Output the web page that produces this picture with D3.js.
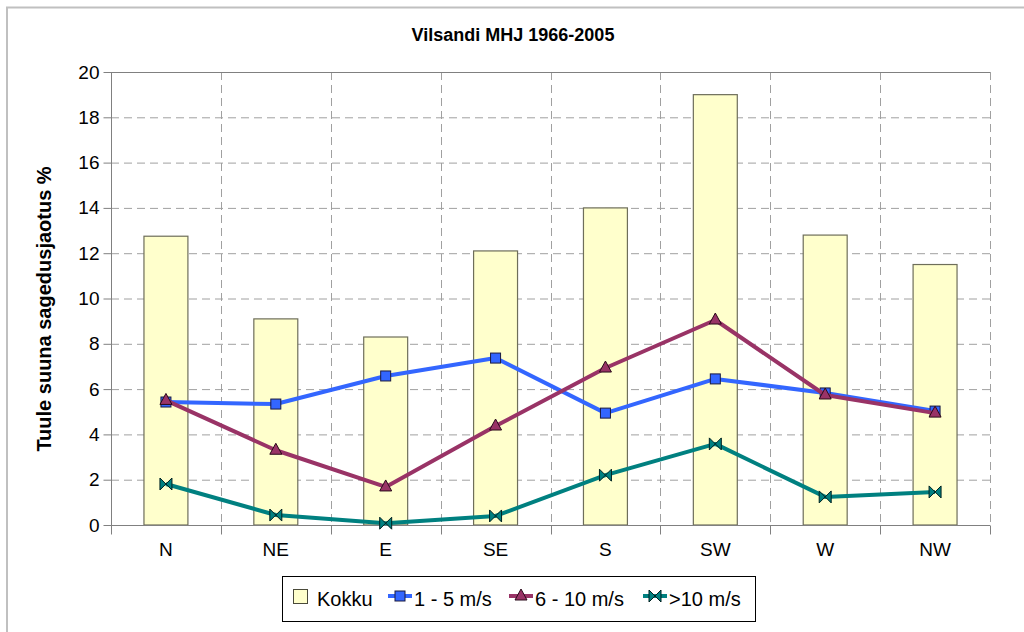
<!DOCTYPE html>
<html>
<head>
<meta charset="utf-8">
<script src="https://cdn.jsdelivr.net/npm/d3@7"></script>
<style>
  body { margin: 0; background: #fff; }
  svg { font-family: Arial, "Liberation Sans", sans-serif; }
</style>
</head>
<body>
<script>
const width = 1024,
  height = 632;

const directions = ['N', 'NE', 'E', 'SE', 'S', 'SW', 'W', 'NW'];
const kokku = [12.75, 9.1, 8.3, 12.1, 14.0, 19.0, 12.8, 11.5];
const speed1to5 = [5.43, 5.34, 6.58, 7.37, 4.94, 6.45, 5.83, 5.03];
const speed6to10 = [5.5, 3.3, 1.68, 4.37, 6.93, 9.05, 5.74, 4.94];
const speedOver10 = [1.81, 0.44, 0.08, 0.4, 2.2, 3.58, 1.24, 1.46];
const yTicks = [0, 2, 4, 6, 8, 10, 12, 14, 16, 18, 20];

const series = [
  { name: '1 - 5 m/s', values: speed1to5, color: '#3366ff', marker: 'square' },
  { name: '6 - 10 m/s', values: speed6to10, color: '#993366', marker: 'triangle' },
  { name: '>10 m/s', values: speedOver10, color: '#008080', marker: 'bowtie' }
];

const margin = { top: 72, right: 34, bottom: 107, left: 111 };

const svg = d3
  .select('body')
  .append('svg')
  .attr('width', width)
  .attr('height', height);

// välimine raam
svg
  .append('rect')
  .attr('x', 7)
  .attr('y', 7.5)
  .attr('width', width)
  .attr('height', height)
  .attr('fill', 'none')
  .attr('stroke', '#c0c0c0')
  .attr('stroke-width', 2);

const x = d3
  .scaleBand()
  .domain(directions)
  .range([margin.left, width - margin.right]);

const y = d3
  .scaleLinear()
  .domain([0, 20])
  .range([height - margin.bottom, margin.top]);

const x0 = margin.left,
  x1 = width - margin.right,
  yBottom = y(0),
  yTop = y(20);

// ruudustik
const grid = svg.append('g');
grid
  .selectAll('.hgrid')
  .data(yTicks.filter(d => d > 0 && d < 20))
  .join('line')
  .attr('x1', x0)
  .attr('x2', x1)
  .attr('y1', d => y(d) + 0.5)
  .attr('y2', d => y(d) + 0.5)
  .attr('stroke', '#a0a0a0')
  .attr('stroke-dasharray', '8,5');

const boundaries = directions.slice(1).map(d => x(d)).concat([x1]);
grid
  .selectAll('.vgrid')
  .data(boundaries)
  .join('line')
  .attr('x1', d => Math.round(d) + 0.5)
  .attr('x2', d => Math.round(d) + 0.5)
  .attr('y1', yTop)
  .attr('y2', yBottom)
  .attr('stroke', '#a0a0a0')
  .attr('stroke-dasharray', '8,5');

// ülemine joon
grid
  .append('line')
  .attr('x1', x0)
  .attr('x2', x1)
  .attr('y1', yTop + 0.5)
  .attr('y2', yTop + 0.5)
  .attr('stroke', '#808080');

// tulbad
const barW = x.bandwidth() / 2.5;
svg
  .append('g')
  .selectAll('rect')
  .data(kokku)
  .join('rect')
  .attr('x', (d, i) => x(directions[i]) + (x.bandwidth() - barW) / 2)
  .attr('y', d => y(d))
  .attr('width', barW)
  .attr('height', d => yBottom - y(d))
  .attr('fill', '#ffffcc')
  .attr('stroke', '#6e6e5a')
  .attr('stroke-width', 1.2);

// teljed
const yAxis = d3.axisLeft(y).tickValues(yTicks).tickSize(8).tickPadding(4);
const gy = svg
  .append('g')
  .attr('transform', `translate(${x0 + 0.5},0)`)
  .call(yAxis);
gy.select('.domain').attr('stroke', '#808080').attr('d', `M0,${yTop}V${yBottom}`);
gy.selectAll('.tick line').attr('stroke', '#808080');
gy.selectAll('.tick text').attr('font-size', 19).attr('fill', '#000');

const xAxis = d3.axisBottom(x).tickSize(0).tickPadding(17);
const gx = svg
  .append('g')
  .attr('transform', `translate(0,${yBottom + 0.5})`)
  .call(xAxis);
gx.select('.domain').attr('stroke', '#808080').attr('d', `M${x0},0H${x1}`);
gx.selectAll('.tick text').attr('font-size', 19).attr('fill', '#000');
gx
  .selectAll('.xt')
  .data([x0].concat(boundaries))
  .join('line')
  .attr('x1', d => Math.round(d) + 0.5)
  .attr('x2', d => Math.round(d) + 0.5)
  .attr('y1', 0)
  .attr('y2', 9)
  .attr('stroke', '#808080');

// markerid
function drawMarker(g, type, color, cx, cy) {
  if (type === 'square') {
    g.append('rect')
      .attr('x', cx - 5)
      .attr('y', cy - 5)
      .attr('width', 10)
      .attr('height', 10)
      .attr('fill', color)
      .attr('stroke', '#1a1a40')
      .attr('stroke-width', 1);
  } else if (type === 'triangle') {
    g.append('path')
      .attr('d', `M${cx},${cy - 7}L${cx + 6},${cy + 4}L${cx - 6},${cy + 4}Z`)
      .attr('fill', color)
      .attr('stroke', '#2a0a1a')
      .attr('stroke-width', 1);
  } else {
    g.append('path')
      .attr('d', `M${cx - 6},${cy - 6}L${cx + 6},${cy + 6}L${cx + 6},${cy - 6}L${cx - 6},${cy + 6}Z`)
      .attr('fill', color)
      .attr('stroke', '#002020')
      .attr('stroke-width', 1);
  }
}

const line = d3
  .line()
  .x((d, i) => x(directions[i]) + x.bandwidth() / 2)
  .y(d => y(d));

series.forEach(s => {
  const g = svg.append('g');
  g.append('path')
    .datum(s.values)
    .attr('d', line)
    .attr('fill', 'none')
    .attr('stroke', s.color)
    .attr('stroke-width', 4)
    .attr('stroke-linejoin', 'round');
  s.values.forEach((v, i) => {
    drawMarker(g, s.marker, s.color, x(directions[i]) + x.bandwidth() / 2, y(v));
  });
});

// pealkiri
svg
  .append('text')
  .attr('x', 513)
  .attr('y', 41)
  .attr('text-anchor', 'middle')
  .attr('font-size', 18)
  .attr('font-weight', 'bold')
  .text('Vilsandi MHJ 1966-2005');

svg
  .append('text')
  .attr('transform', `translate(51,${309}) rotate(-90)`)
  .attr('text-anchor', 'middle')
  .attr('font-size', 20)
  .attr('font-weight', 'bold')
  .text('Tuule suuna sagedusjaotus %');

// legend
const legend = svg.append('g');
legend
  .append('rect')
  .attr('x', 282.5)
  .attr('y', 576.5)
  .attr('width', 473)
  .attr('height', 45)
  .attr('fill', '#fff')
  .attr('stroke', '#000');

legend
  .append('rect')
  .attr('x', 293.5)
  .attr('y', 589.5)
  .attr('width', 14)
  .attr('height', 14)
  .attr('fill', '#ffffcc')
  .attr('stroke', '#4a4a3a');
legend
  .append('text')
  .attr('x', 317)
  .attr('y', 606)
  .attr('font-size', 20)
  .text('Kokku');

const legendX = [388, 509, 643];
series.forEach((s, i) => {
  const lx = legendX[i];
  legend
    .append('line')
    .attr('x1', lx)
    .attr('x2', lx + 24)
    .attr('y1', 596)
    .attr('y2', 596)
    .attr('stroke', s.color)
    .attr('stroke-width', 4);
  drawMarker(legend, s.marker, s.color, lx + 12, 596);
  legend
    .append('text')
    .attr('x', lx + 26)
    .attr('y', 606)
    .attr('font-size', 20)
    .text(s.name);
});
</script>
</body>
</html>
